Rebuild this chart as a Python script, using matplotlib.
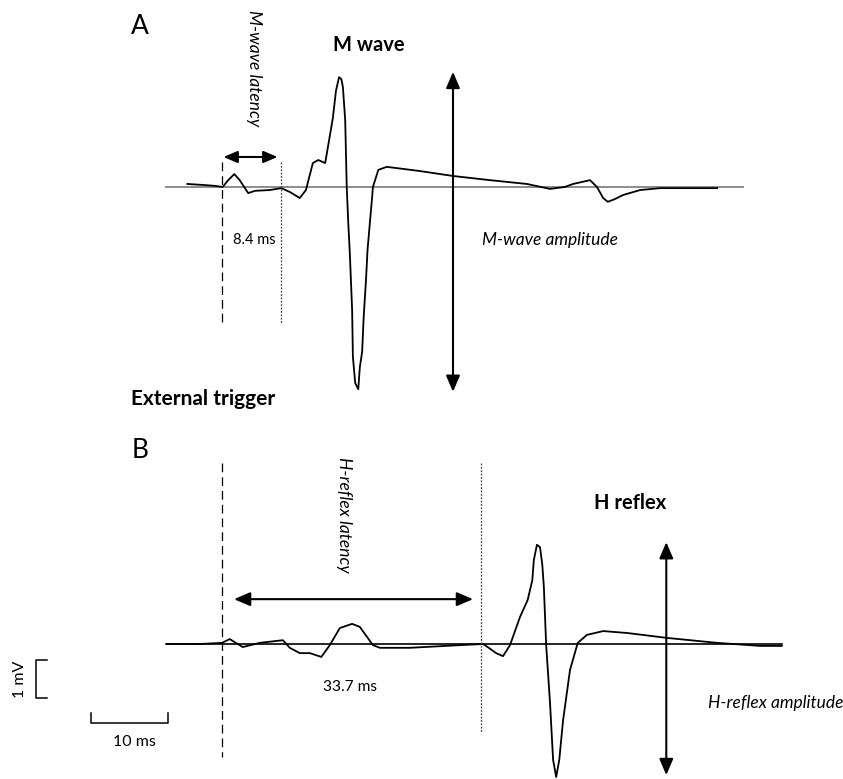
"""
M wave and H reflex traces, redrawn.
Panel A: M wave after the external trigger; panel B: H reflex.
Time in ms from the trigger, amplitude in mV.
"""

import matplotlib
matplotlib.use("Agg")
import matplotlib.pyplot as plt

plt.rcParams["font.family"] = ["Lato", "DejaVu Sans"]

# ---------------------------------------------------------------------------
# Data
# ---------------------------------------------------------------------------

m_time = [-4.5, -2.2, -0.9, 0.1, 0.8, 1.6, 2.3, 3.4, 4.3, 6.2, 7.7, 8.8, 10.1,
          10.9, 11.8, 12.5, 13.4, 14.0, 14.4, 14.8, 15.2, 15.5, 15.7, 16.0,
          16.2, 16.4, 16.6, 16.9, 17.0, 17.3, 17.7, 17.9, 18.2, 18.4, 18.7,
          18.9, 19.2, 19.5, 19.6, 20.3, 21.4, 25.7, 30.0, 34.8, 39.6, 42.6,
          44.5, 45.6, 47.8, 48.7, 49.5, 50.1, 51.0, 52.1, 54.3, 56.9, 64.3]
m_volt = [0.08, 0.05, 0.03, 0.0, 0.18, 0.34, 0.18, -0.16, -0.10, -0.08, -0.03,
          -0.13, -0.29, -0.08, 0.63, 0.71, 0.63, 1.34, 1.82, 2.53, 2.89, 2.84,
          2.63, 1.76, 0.0, -0.95, -1.74, -3.24, -4.47, -5.16, -5.32, -4.74,
          -4.34, -3.42, -2.45, -1.66, -0.95, -0.26, 0.0, 0.45, 0.53, 0.42,
          0.29, 0.18, 0.08, -0.05, 0.0, 0.08, 0.18, 0.0, -0.29, -0.39, -0.32,
          -0.21, -0.08, -0.03, -0.03]

h_time = [-7.1, -2.9, 0.0, 1.0, 1.8, 2.7, 4.9, 7.9, 8.8, 10.1, 11.4, 12.9,
          14.0, 15.3, 16.9, 17.9, 19.6, 20.5, 24.4, 30.9, 33.9, 34.5, 35.6,
          36.5, 37.4, 38.7, 39.7, 40.3, 40.5, 40.9, 41.3, 41.6, 41.8, 42.1,
          42.6, 43.0, 43.4, 43.8, 44.3, 45.2, 46.2, 47.4, 49.5, 52.6, 57.8,
          64.3, 69.9, 72.7]
h_volt = [0.0, 0.0, 0.03, 0.13, 0.03, -0.08, 0.03, 0.10, -0.10, -0.24, -0.24,
          -0.34, -0.03, 0.42, 0.53, 0.45, -0.03, -0.10, -0.10, -0.03, 0.0,
          -0.08, -0.24, -0.32, -0.03, 0.71, 1.16, 1.68, 2.21, 2.61, 2.55, 2.08,
          1.50, -0.03, -1.55, -3.05, -3.50, -3.05, -2.00, -0.68, 0.03, 0.24,
          0.34, 0.29, 0.16, 0.03, -0.05, -0.05]

m_baseline = [-7.3, 67.7]
h_baseline = [-7.3, 72.7]

m_latency = 7.7        # onset line position, ms
m_latency_label = "8.4 ms"
m_amp_range = [3.03, -5.39]
m_amp_time = 30.0

h_latency = 33.7
h_latency_label = "33.7 ms"
h_amp_range = [2.68, -3.45]
h_amp_time = 57.7

scale_ms = 10
scale_mv = 1

# ---------------------------------------------------------------------------
# Layout: 7.7 px per ms, 38 px per mV, trigger at x = 222 px
# ---------------------------------------------------------------------------

W, H = 843, 779
PX_MS = 7.7
PX_MV = 38.0
X0 = 222
SPLIT = 410           # pixel row between the two panels
BASE_A, BASE_B = 187, 644

fig = plt.figure(figsize=(W / 100, H / 100), dpi=100)
xlim = (-X0 / PX_MS, (W - X0) / PX_MS)

axA = fig.add_axes([0, 1 - SPLIT / H, 1, SPLIT / H])
axA.set_xlim(*xlim)
axA.set_ylim(-(SPLIT - BASE_A) / PX_MV, BASE_A / PX_MV)

axB = fig.add_axes([0, 0, 1, 1 - SPLIT / H])
axB.set_xlim(*xlim)
axB.set_ylim(-(H - BASE_B) / PX_MV, (BASE_B - SPLIT) / PX_MV)

for ax in (axA, axB):
    ax.axis("off")


def ftext(x, y, s, **kw):
    """Place text at figure pixel coords (origin top-left)."""
    fig.text(x / W, 1 - y / H, s, **kw)


def darrow(ax, p0, p1, scale=14):
    ax.annotate("", xy=p1, xytext=p0,
                arrowprops=dict(arrowstyle="<|-|>,head_length=0.7,head_width=0.3",
                                color="black", lw=1.5, mutation_scale=scale,
                                shrinkA=0, shrinkB=0))


dash = dict(color="black", lw=0.9, linestyle=(0, (7, 4)))
dot = dict(color="#444444", lw=0.9, linestyle=(0, (1.5, 1.2)))

# ---- Panel A --------------------------------------------------------------
axA.plot(m_baseline, [0, 0], color="#8c8c8c", lw=1.4, zorder=1)
axA.plot(m_time, m_volt, color="black", lw=1.3, zorder=2)
axA.plot([0, 0], [0.66, -3.58], **dash)
axA.plot([m_latency, m_latency], [0.66, -3.58], **dot)
darrow(axA, (0.2, 0.79), (m_latency - 0.5, 0.79), scale=12)
darrow(axA, (m_amp_time, m_amp_range[0]), (m_amp_time, m_amp_range[1]))

ftext(140, 26, "A", fontsize=19, ha="center", va="center")
ftext(369, 45, "M wave", fontsize=14.5, fontweight="bold", ha="center", va="center")
ftext(254, 68, "M-wave latency", fontsize=12.5, style="italic", rotation=-90,
      ha="center", va="center")
ftext(254, 240, m_latency_label, fontsize=10.5, ha="center", va="center")
ftext(482, 240, "M-wave amplitude", fontsize=12.5, style="italic", ha="left",
      va="center")
ftext(131, 399, "External trigger", fontsize=15, fontweight="bold", ha="left",
      va="center")

# ---- Panel B --------------------------------------------------------------
axB.plot(h_baseline, [0, 0], color="black", lw=1.2, zorder=1)
axB.plot(h_time, h_volt, color="black", lw=1.3, zorder=2)
axB.plot([0, 0], [4.76, -2.97], **dash)
axB.plot([h_latency, h_latency], [4.76, -2.34], **dot)
darrow(axB, (1.56, 1.18), (32.6, 1.18))
darrow(axB, (h_amp_time, h_amp_range[0]), (h_amp_time, h_amp_range[1]))

# scale bars
sx = -24.2
axB.plot([sx + 1.5, sx, sx, sx + 1.5],
         [-0.42, -0.42, -0.42 - scale_mv, -0.42 - scale_mv],
         color="black", lw=1.1)
bx, by = -17.0, -2.08
axB.plot([bx, bx, bx + scale_ms, bx + scale_ms],
         [by + 0.26, by, by, by + 0.26], color="black", lw=1.1)

ftext(140, 451, "B", fontsize=19, ha="center", va="center")
ftext(630, 503, "H reflex", fontsize=14.5, fontweight="bold", ha="center",
      va="center")
ftext(344, 515, "H-reflex latency", fontsize=12.5, style="italic", rotation=-90,
      ha="center", va="center")
ftext(350, 687, h_latency_label, fontsize=11.2, ha="center", va="center")
ftext(708, 703, "H-reflex amplitude", fontsize=12.5, style="italic", ha="left",
      va="center")
ftext(20, 679, "1 mV", fontsize=11.5, rotation=90, ha="center", va="center")
ftext(134, 742, "10 ms", fontsize=11.5, ha="center", va="center")

fig.savefig("out.png", dpi=100)
